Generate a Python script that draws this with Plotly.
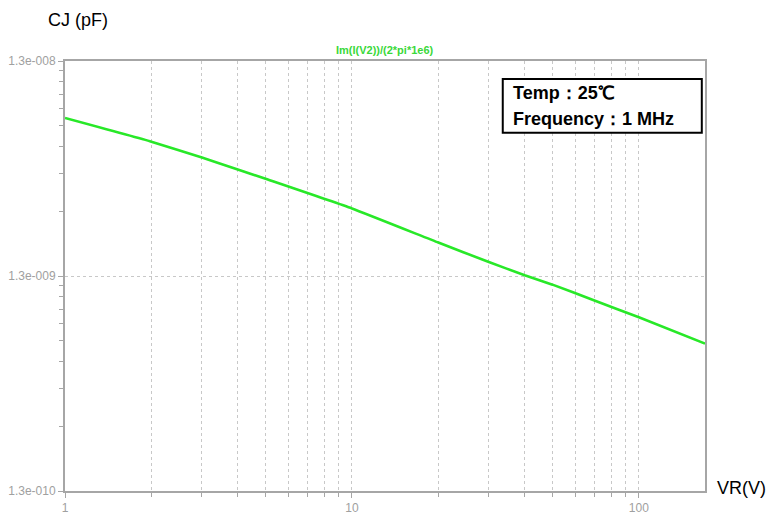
import plotly.graph_objects as go

# Data (reverse voltage in V, junction capacitance in F)
vr = [1, 2, 3, 4, 5, 10, 20, 30, 40, 50, 70, 100, 170]
cj = [7.06e-9, 5.48e-9, 4.62e-9, 4.07e-9, 3.68e-9, 2.68e-9, 1.86e-9,
      1.51e-9, 1.31e-9, 1.185e-9, 1.0e-9, 8.35e-10, 6.3e-10]

x_major = [1, 10, 100]
x_major_text = ["1", "10", "100"]
x_minor = [k * d for d in (1, 10, 100) for k in range(2, 10)]
y_major = [1.3e-10, 1.3e-9, 1.3e-8]
y_major_text = ["1.3e-010", "1.3e-009", "1.3e-008"]
y_minor = [k * d for d in (1.3e-10, 1.3e-9) for k in range(2, 10)]

axis_gray = "#a6a6a6"
grid_gray = "#c8c8c8"
label_font = dict(family="Arial, Liberation Sans, sans-serif", size=12, color="#a0a0a0")

fig = go.Figure()
fig.add_trace(go.Scatter(
    x=vr, y=cj, mode="lines",
    line=dict(color="rgb(40,232,40)", width=2.6, shape="spline", smoothing=0.4),
    hoverinfo="skip", showlegend=False,
))

fig.update_layout(
    width=779, height=516,
    margin=dict(l=65, r=74, t=61, b=25),
    paper_bgcolor="white", plot_bgcolor="white",
    showlegend=False,
    xaxis=dict(
        type="log", range=[0, 2.2304],
        tickmode="array", tickvals=x_major, ticktext=x_major_text,
        ticks="outside", ticklen=5, tickwidth=1, tickcolor=axis_gray,
        showgrid=True, gridcolor=grid_gray, griddash="dot", gridwidth=1,
        minor=dict(tickmode="array", tickvals=x_minor, ticks="outside",
                   ticklen=4, tickcolor=axis_gray, showgrid=True,
                   gridcolor=grid_gray, griddash="dot", gridwidth=1),
        showline=True, linecolor=axis_gray, linewidth=2, mirror=True,
        tickfont=label_font, zeroline=False, automargin=False,
    ),
    yaxis=dict(
        type="log", range=[-9.886057, -7.886057],
        tickmode="array", tickvals=y_major, ticktext=y_major_text,
        ticks="outside", ticklen=5, tickwidth=1, tickcolor=axis_gray,
        showgrid=True, gridcolor=grid_gray, griddash="dot", gridwidth=1,
        minor=dict(tickmode="array", tickvals=y_minor, ticks="outside",
                   ticklen=4, tickcolor=axis_gray, showgrid=False),
        showline=True, linecolor=axis_gray, linewidth=2, mirror=True,
        tickfont=label_font, zeroline=False, automargin=False,
    ),
    font=dict(family="Arial, Liberation Sans, sans-serif"),
)

fig.add_annotation(
    text="<b>Im(I(V2))/(2*pi*1e6)</b>", xref="paper", yref="paper",
    x=0.5, y=1.026, xanchor="center", yanchor="middle", showarrow=False,
    font=dict(size=11, color="#3ad83a"),
)
fig.add_annotation(
    text="CJ (pF)", xref="paper", yref="paper",
    x=-0.029, y=1.095, xanchor="left", yanchor="middle", showarrow=False,
    font=dict(size=18, color="black"),
)
fig.add_annotation(
    text="VR(V)", xref="paper", yref="paper",
    x=1.015, y=0.007, xanchor="left", yanchor="middle", showarrow=False,
    font=dict(size=18, color="black"),
)

fig.add_shape(type="rect", xref="paper", yref="paper",
              x0=0.684, x1=0.995, y0=0.833, y1=0.958,
              line=dict(color="black", width=2), fillcolor="white", layer="above")
fig.add_annotation(
    text="<b>Temp：25℃</b>", xref="paper", yref="paper",
    x=0.697, y=0.925, xanchor="left", yanchor="middle", showarrow=False,
    font=dict(size=18, color="black"),
)
fig.add_annotation(
    text="<b>Frequency：1 MHz</b>", xref="paper", yref="paper",
    x=0.697, y=0.864, xanchor="left", yanchor="middle", showarrow=False,
    font=dict(size=18, color="black"),
)

fig.write_html("out.html",
               config={"displayModeBar": False},
               post_script="document.body.style.margin='0';document.body.style.overflow='hidden';")
